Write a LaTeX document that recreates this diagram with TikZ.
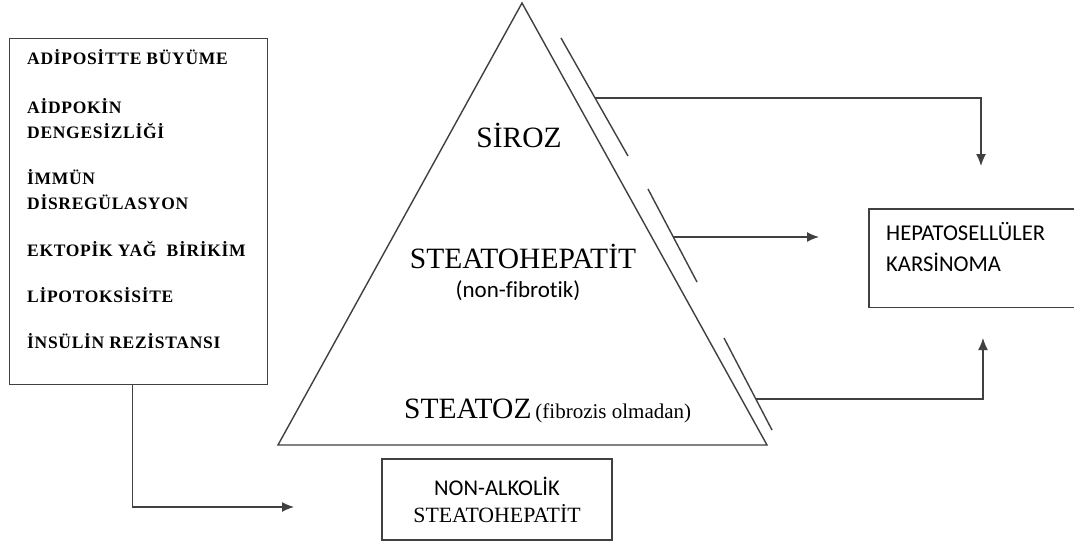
\documentclass[tikz,border=0pt]{standalone}
\usepackage{fontspec}
\setmainfont{Liberation Serif}
\newfontfamily\calibrifont[Ligatures=NoCommon]{Carlito}
\newfontfamily\factorfont[LetterSpace=4]{Liberation Serif}
\usetikzlibrary{calc,arrows.meta,positioning}

\begin{document}
\begin{tikzpicture}[x=1pt,y=-1pt,
	line/.style={draw=black!75,line width=1.4pt},
	arrow/.style={line,-{Latex[length=12pt,width=10pt]}},
	factor/.style={anchor=base west,inner sep=0pt,font=\factorfont\bfseries\fontsize{17.5}{20}\selectfont},
	stage/.style={anchor=base,inner sep=0pt,font=\fontsize{29.5}{34}\selectfont},
	sans/.style={inner sep=0pt,font=\calibrifont\fontsize{22.6}{26}\selectfont}]
	\useasboundingbox[fill=white] (0,0) rectangle (1074,547);
	
	% risk factors
	\node[line,anchor=north west,inner sep=0pt,minimum width=258pt,minimum height=346pt] (factors) at (9,38) {};
	\node[factor] (f1) at (27,64) {ADİPOSİTTE BÜYÜME};
	\node[factor] (f2a) at (27,113) {AİDPOKİN};
	\node[factor] (f2b) at (27,138) {DENGESİZLİĞİ};
	\node[factor] (f3a) at (27,184) {İMMÜN};
	\node[factor] (f3b) at (27,209) {DİSREGÜLASYON};
	\node[factor] (f4) at (27,256) {EKTOPİK YAĞ~ BİRİKİM};
	\node[factor] (f5) at (27,302) {LİPOTOKSİSİTE};
	\node[factor] (f6) at (27,348) {İNSÜLİN REZİSTANSI};
	
	% pyramid
	\coordinate (apex) at (522,3);
	\coordinate (bl) at (278,445);
	\coordinate (br) at (767,445);
	\draw[line] (apex) -- (bl) -- (br) -- cycle;
	
	\coordinate (s1a) at (561,38);
	\coordinate (s1b) at (628,156);
	\coordinate (s2a) at (648,189);
	\coordinate (s2b) at (697,282);
	\coordinate (s3a) at (724,338);
	\coordinate (s3b) at (772,430);
	\draw[line] (s1a) -- (s1b);
	\draw[line] (s2a) -- (s2b);
	\draw[line] (s3a) -- (s3b);
	
	\node[stage] (siroz) at (519,147) {SİROZ};
	\node[stage] (steatohep) at (523,268) {STEATOHEPATİT};
	\node[sans,anchor=base,font=\calibrifont\fontsize{23}{26}\selectfont] (nonfib) at (518,297) {(non-fibrotik)};
	\node[anchor=base west,inner sep=0pt] (steatoz) at (404,418)
		{\fontsize{29.5}{34}\selectfont STEATOZ\hspace{4pt}{\fontsize{21}{24}\selectfont(fibrozis olmadan)}};
	
	% NASH
	\node[line,inner sep=0pt,minimum width=230pt,minimum height=81pt,align=center,
		font=\calibrifont\fontsize{22.5}{27}\selectfont] (nash) at (497,499.5)
		{NON-ALKOLİK\\{\rmfamily\fontsize{21.8}{27}\selectfont STEATOHEPATİT}};
	\coordinate (nashin) at (294,507);
	\draw[arrow] ([xshift=-6pt]factors.south) |- (nashin);
	
	% HCC
	\node[anchor=north west,inner sep=0pt,minimum width=205pt,minimum height=98pt] (hcc) at (869,209) {};
	\draw[line] (hcc.north east) -- (hcc.north west) -- (hcc.south west) -- (hcc.south east);
	\node[sans,anchor=base west] (hcc1) at (886,240) {HEPATOSELLÜLER};
	\node[sans,anchor=base west] (hcc2) at (886,271) {KARSİNOMA};
	
	\coordinate (hcctop) at (981,166);
	\coordinate (hccleft) at (819,237);
	\coordinate (hccbot) at (983,338);
	\coordinate (j1) at ($(s1a)!0.508!(s1b)$);
	\coordinate (j2) at ($(s2a)!0.516!(s2b)$);
	\coordinate (j3) at ($(s3a)!0.663!(s3b)$);
	\draw[arrow] (j1) -| (hcctop);
	\draw[arrow] (j2) -- (j2 -| hccleft);
	\draw[arrow] (j3) -| (hccbot);
	
\end{tikzpicture}
\end{document}
